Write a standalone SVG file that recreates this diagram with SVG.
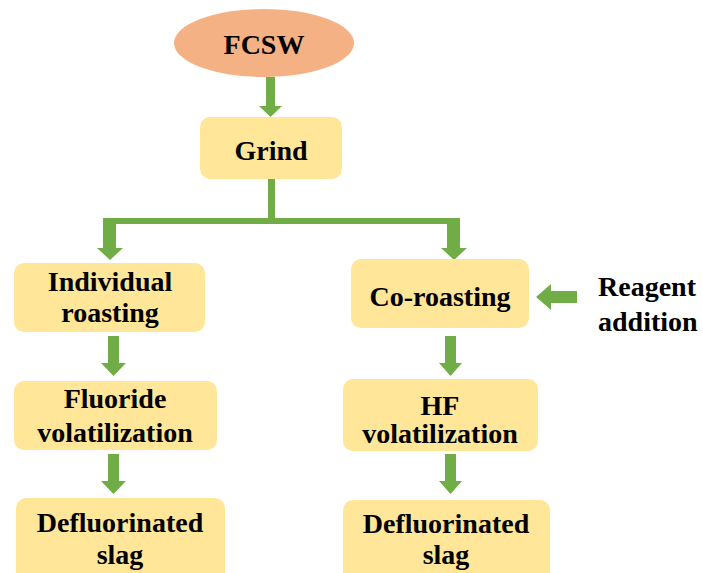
<svg xmlns="http://www.w3.org/2000/svg" width="703" height="573" viewBox="0 0 703 573">
<style>
.box{fill:#FFE699;}
.t{font-family:"Liberation Serif","Times New Roman",serif;font-weight:bold;font-size:28px;fill:#000;text-anchor:middle;}
.ts{font-family:"Liberation Serif","Times New Roman",serif;font-weight:bold;font-size:28px;fill:#000;}
.arr{fill:#70AD47;}
.ln{stroke:#70AD47;fill:none;}
</style>
<rect width="703" height="573" fill="#fff"/>
<g id="connectors">
<polygon class="arr" points="266,77 275,77 275,106 282,106 270.5,117 259,106 266,106"/>
<line class="ln" x1="271.5" y1="179" x2="271.5" y2="221" stroke-width="7"/>
<line class="ln" x1="103" y1="221" x2="460" y2="221" stroke-width="6"/>
<polygon class="arr" points="103,218 116,218 116,248 123,248 110,260 97,248 103,248"/>
<polygon class="arr" points="447,218 460,218 460,248 467,248 454,260 441,248 447,248"/>
<polygon class="arr" points="108,336 119,336 119,363 126,363 113.5,376 101,363 108,363"/>
<polygon class="arr" points="108,454 119,454 119,481 126,481 113.5,494 101,481 108,481"/>
<polygon class="arr" points="445,336 456,336 456,363 462,363 450.5,376 439,363 445,363"/>
<polygon class="arr" points="445,454 456,454 456,481 462,481 450.5,494 439,481 445,481"/>
<polygon class="arr" points="577,291 577,303 551,303 551,310 536,297 551,284 551,291"/>
</g>
<g id="fcsw">
<ellipse cx="264" cy="43" rx="90" ry="34" fill="#F4B183"/>
<text class="t" x="264" y="54">FCSW</text>
</g>
<g id="grind">
<rect class="box" x="200" y="117" width="142" height="62" rx="10"/>
<text class="t" x="271" y="160">Grind</text>
</g>
<g id="individual-roasting">
<rect class="box" x="14" y="263" width="191" height="69" rx="10"/>
<text class="t" x="110" y="291">Individual</text>
<text class="t" x="110" y="322">roasting</text>
</g>
<g id="fluoride-volatilization">
<rect class="box" x="14" y="381" width="203" height="69" rx="10"/>
<text class="t" x="115" y="408">Fluoride</text>
<text class="t" x="115" y="442">volatilization</text>
</g>
<g id="defluorinated-slag-left">
<rect class="box" x="16" y="498" width="209" height="85" rx="10"/>
<text class="t" x="120" y="532">Defluorinated</text>
<text class="t" x="120" y="564">slag</text>
</g>
<g id="co-roasting">
<rect class="box" x="351" y="259" width="178" height="69" rx="10"/>
<text class="t" x="440" y="306">Co-roasting</text>
</g>
<g id="reagent-addition">
<text class="ts" x="598" y="296">Reagent</text>
<text class="ts" x="598" y="331">addition</text>
</g>
<g id="hf-volatilization">
<rect class="box" x="343" y="379" width="195" height="72" rx="10"/>
<text class="t" x="440" y="415">HF</text>
<text class="t" x="440" y="443">volatilization</text>
</g>
<g id="defluorinated-slag-right">
<rect class="box" x="343" y="500" width="207" height="85" rx="10"/>
<text class="t" x="446" y="533">Defluorinated</text>
<text class="t" x="446" y="564">slag</text>
</g>
</svg>
